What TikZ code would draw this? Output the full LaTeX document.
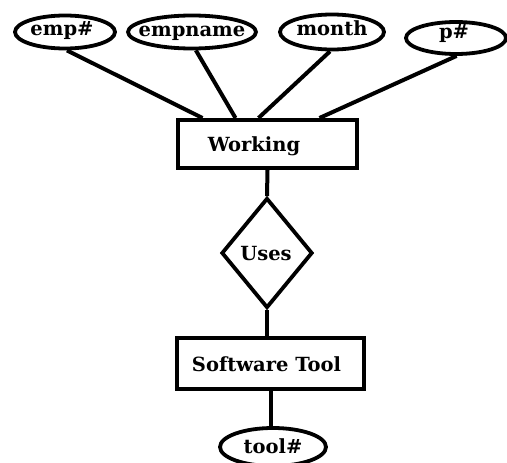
\documentclass[tikz,border=0pt]{standalone}
\usepackage{fontspec}
\setmainfont{DejaVu Serif}
\usetikzlibrary{shapes.geometric,calc}
\tikzset{
  link/.style={line width=4pt},
  attr/.style={ellipse,draw,line width=3.8pt,minimum width=100pt,minimum height=33pt,inner sep=0pt},
  entity/.style={rectangle,draw,line width=4pt,inner sep=0pt},
  relation/.style={diamond,draw,line width=3.8pt,inner sep=0pt,minimum width=91pt,minimum height=110pt},
  lbl/.style={font=\fontsize{19.5}{21}\selectfont\bfseries,text=black,inner sep=0pt,anchor=base}
}
\begin{document}
\begin{tikzpicture}[x=1pt,y=-1pt]
\useasboundingbox (0,0) rectangle (507,463);
% attributes of Working
\node[attr] (emp) at (65,32) {};
\node[lbl] at (62,35) {emp\#};
\node[attr,minimum width=128pt] (ename) at (192,32) {};
\node[lbl] at (192,36) {empname};
\node[attr,minimum width=104pt,minimum height=35pt] (month) at (332,32) {};
\node[lbl] at (332,35) {month};
\node[attr,minimum width=100pt,minimum height=32pt] (pno) at (456,38) {};
\node[lbl] at (454,38) {p\#};
% aggregated entity
\node[entity,minimum width=179pt,minimum height=48pt] (work) at (267.5,144) {};
\node[lbl] (worklbl) at (254,151) {Working};
% relationship
\node[relation] (uses) at (267,253) {};
\node[lbl] at (266,260) {Uses};
% entity and its key
\node[entity,minimum width=187pt,minimum height=51pt] (tool) at (270.5,363.5) {};
\node[lbl] (toollbl) at (266.5,371) {Software Tool};
\node[attr,minimum width=106pt,minimum height=38pt] (toolno) at (273,447) {};
\node[lbl] at (273,453) {tool\#};
% connectors
\draw[link] (emp.-84) -- ($(work.north)+(-65,0)$);
\draw[link] (ename.-78) -- ($(work.north)+(-32,0)$);
\draw[link] (month.-96) -- ($(work.north)+(-9,0)$);
\draw[link] (pno.-88) -- ($(work.north)+(52,0)$);
\draw[link] (work.south) -- (uses.north);
\draw[link] (uses.south) -- (uses.south |- tool.north);
\draw[link] (tool.south) -- (tool.south |- toolno.north);
\end{tikzpicture}
\end{document}
